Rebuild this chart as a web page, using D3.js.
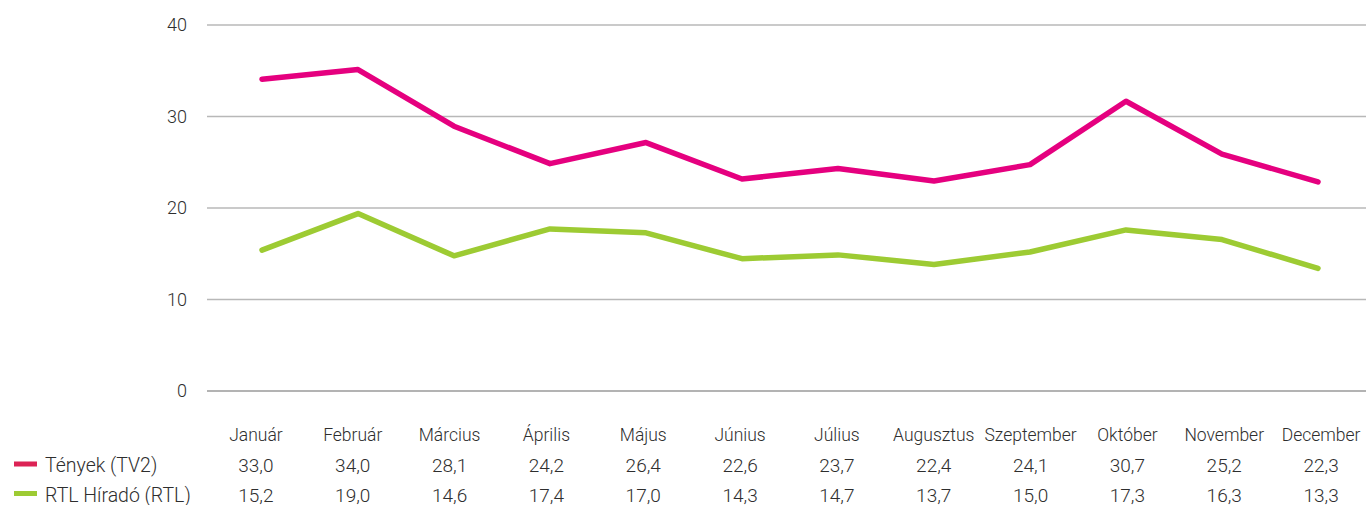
<!DOCTYPE html>
<html lang="hu">
<head>
<meta charset="UTF-8">
<title>Tények vs RTL Híradó</title>
<script src="https://cdnjs.cloudflare.com/ajax/libs/d3/7.8.5/d3.min.js"></script>
<style>
    body { margin: 0; background: #fff; overflow: hidden; }
    svg { display: block; font-family: Roboto, "Noto Sans", sans-serif; font-weight: 300; }
    .grid line { stroke: #b8b8b8; stroke-width: 1.5px; }
    .axis text, .tbl text { fill: #2e2e2e; }
</style>
</head>
<body>
<svg id="chart" width="1366" height="505"></svg>
<script>
    const months = ["Január", "Február", "Március", "Április", "Május", "Június",
        "Július", "Augusztus", "Szeptember", "Október", "November", "December"];
    const tenyek = [33.0, 34.0, 28.1, 24.2, 26.4, 22.6, 23.7, 22.4, 24.1, 30.7, 25.2, 22.3];
    const rtl = [15.2, 19.0, 14.6, 17.4, 17.0, 14.3, 14.7, 13.7, 15.0, 17.3, 16.3, 13.3];
    const yTicks = [0, 10, 20, 30, 40];

    const series = [
        { name: "Tények (TV2)", values: tenyek, line: "#e5007f", swatch: "#dc2355" },
        { name: "RTL Híradó (RTL)", values: rtl, line: "#9dcb33", swatch: "#9dcb33" }
    ];

    const svg = d3.select("#chart");

    // table columns
    const x = d3.scaleBand().domain(months).range([207.5, 1369.5]);
    // plot points (the original plot area sits slightly inside the columns)
    const xp = d3.scalePoint().domain(months).range([262, 1318]);
    // gridline scale
    const y = d3.scaleLinear().domain([0, 40]).range([391, 25]);
    // line scale (the original lines are drawn on a slightly taller scale)
    const yl = d3.scaleLinear().domain([0, 40]).range([396, 12]);

    // gridlines
    svg.append("g").attr("class", "grid")
        .selectAll("line").data(yTicks).enter().append("line")
        .attr("x1", 207).attr("x2", 1366)
        .attr("y1", d => y(d)).attr("y2", d => y(d))
        .style("stroke", d => d === 0 ? "#9a9a9a" : null);

    // y labels
    svg.append("g").attr("class", "axis")
        .selectAll("text").data(yTicks).enter().append("text")
        .attr("x", 187).attr("y", d => y(d))
        .attr("dy", "0.35em")
        .attr("text-anchor", "end")
        .style("font-size", "18px")
        .text(d => d);

    const line = d3.line()
        .x((d, i) => xp(months[i]))
        .y(d => yl(d));

    series.forEach(s => {
        svg.append("path")
            .datum(s.values)
            .attr("fill", "none")
            .attr("stroke", s.line)
            .attr("stroke-width", 5.5)
            .attr("stroke-linejoin", "round")
            .attr("stroke-linecap", "round")
            .attr("d", line);
    });

    // data table
    const tbl = svg.append("g").attr("class", "tbl");

    tbl.selectAll(".month").data(months).enter().append("text")
        .attr("class", "month")
        .attr("x", d => x(d) + x.bandwidth() / 2)
        .attr("y", 441)
        .attr("text-anchor", "middle")
        .style("font-size", "17.5px")
        .text(d => d);

    const fmt = v => v.toFixed(1).replace(".", ",");

    series.forEach((s, r) => {
        const rowY = 472 + r * 29.5;
        tbl.append("rect")
            .attr("x", 14).attr("y", rowY - 10.5)
            .attr("width", 23).attr("height", 5)
            .attr("fill", s.swatch);
        tbl.append("text")
            .attr("x", 45).attr("y", rowY)
            .style("font-size", "19.5px")
            .text(s.name);
        tbl.selectAll(".v" + r).data(s.values).enter().append("text")
            .attr("class", "v" + r)
            .attr("x", (d, i) => x(months[i]) + x.bandwidth() / 2)
            .attr("y", rowY)
            .attr("text-anchor", "middle")
            .style("font-size", "19px")
            .text(d => fmt(d));
    });
</script>
</body>
</html>
